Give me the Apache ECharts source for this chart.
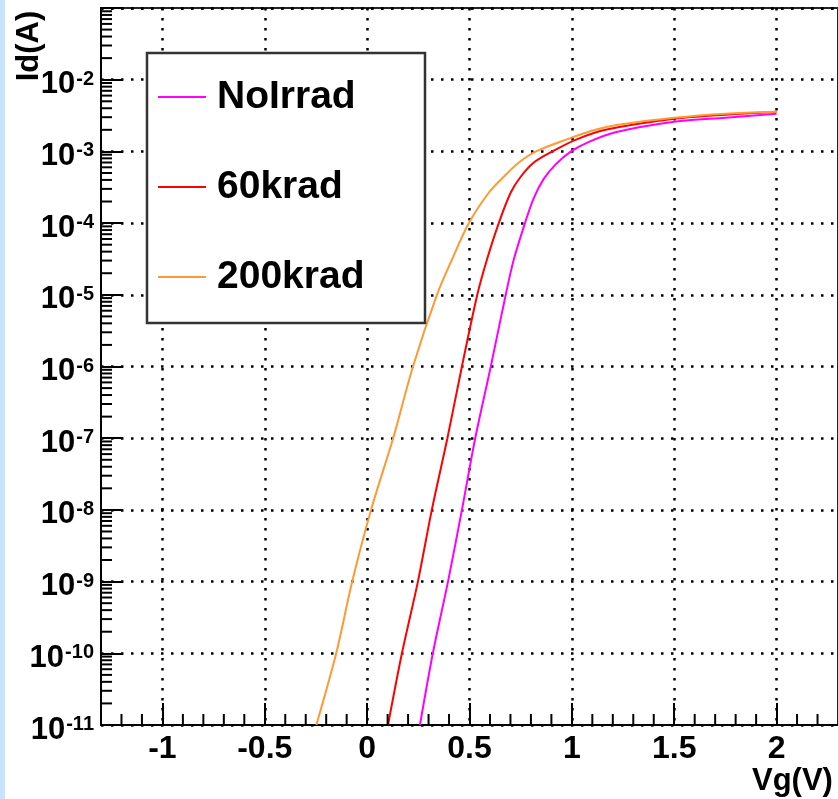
<!DOCTYPE html>
<html>
<head>
<meta charset="utf-8">
<title>Id vs Vg</title>
<script src="https://cdn.jsdelivr.net/npm/echarts@6/dist/echarts.min.js"></script>
<style>
  html, body { margin: 0; padding: 0; background: #fff; }
  #chart { width: 838px; height: 799px; }
</style>
</head>
<body>
<div id="chart"></div>
<script>
const FONT = "'Liberation Sans', Arial, Helvetica, sans-serif";

// legend names
const seriesNames = ["NoIrrad", "60krad", "200krad"];
const seriesColors = ["#ff00ff", "#ff0000", "#ff9933"];

// gate voltage (V) / drain current (A)
const vgNoIrrad = [0.258, 0.321, 0.395, 0.463, 0.528, 0.604, 0.677, 0.716, 0.771, 0.813, 0.862, 0.921, 0.996, 1.081, 1.213, 1.5, 1.75, 2.0];
const idNoIrrad = [1e-11, 1e-10, 1e-9, 1e-8, 1e-7, 1e-6, 1e-5, 3.08e-5, 1e-4, 2.2e-4, 4.1e-4, 6.6e-4, 1e-3, 1.35e-3, 1.85e-3, 2.59e-3, 2.95e-3, 3.35e-3];

const vg60krad = [0.102, 0.17, 0.248, 0.316, 0.392, 0.463, 0.538, 0.585, 0.643, 0.701, 0.75, 0.813, 0.905, 1.018, 1.164, 1.5, 1.75, 2.0];
const id60krad = [1e-11, 1e-10, 1e-9, 1e-8, 1e-7, 1e-6, 1e-5, 3.08e-5, 1e-4, 2.65e-4, 4.43e-4, 6.95e-4, 1e-3, 1.45e-3, 2.0e-3, 2.85e-3, 3.25e-3, 3.57e-3];

const vg200krad = [-0.248, -0.151, -0.073, 0.019, 0.127, 0.224, 0.341, 0.414, 0.497, 0.594, 0.667, 0.74, 0.825, 0.969, 1.115, 1.227, 1.5, 1.75, 2.0];
const id200krad = [1e-11, 1e-10, 1e-9, 1e-8, 1e-7, 1e-6, 1e-5, 3.08e-5, 1e-4, 2.65e-4, 4.43e-4, 6.95e-4, 1e-3, 1.45e-3, 2.0e-3, 2.35e-3, 2.94e-3, 3.35e-3, 3.57e-3];

// axis ranges, labelled ticks and ROOT-style minor ticks
const xMin = -1.3, xMax = 2.3;
const yMin = 1e-11, yMax = 1e-1;
const xMajorTicks = [-1, -0.5, 0, 0.5, 1, 1.5, 2];
const xMinorTicks = [-1.2, -1.1, -0.9, -0.8, -0.7, -0.6, -0.4, -0.3, -0.2, -0.1, 0.1, 0.2, 0.3, 0.4,
  0.6, 0.7, 0.8, 0.9, 1.1, 1.2, 1.3, 1.4, 1.6, 1.7, 1.8, 1.9, 2.1, 2.2];
const yMinorTicks = [];
for (let e = -11; e <= -2; e++) {
  for (let k = 2; k <= 9; k++) yMinorTicks.push(k * Math.pow(10, e));
}

const pairs = (xs, ys) => xs.map((x, i) => [x, ys[i]]);
const curves = [pairs(vgNoIrrad, idNoIrrad), pairs(vg60krad, id60krad), pairs(vg200krad, id200krad)];

const tickData = xMinorTicks.map(v => [v, yMin, 0]).concat(yMinorTicks.map(v => [xMin, v, 1]));

function renderMinorTick(params, api) {
  const p = api.coord([api.value(0), api.value(1)]);
  const vertical = api.value(2) === 0;
  return {
    type: "line",
    shape: vertical
      ? { x1: p[0], y1: p[1], x2: p[0], y2: p[1] - 11 }
      : { x1: p[0], y1: p[1], x2: p[0] + 11, y2: p[1] },
    style: { stroke: "#000", lineWidth: 2 },
  };
}

const dotted = { color: "#000", width: 2.5, type: [2.5, 7.5] };

const chart = echarts.init(document.getElementById("chart"));

const option = {
  animation: false,
  backgroundColor: "#fff",
  grid: {
    left: 101,
    top: 8,
    width: 739,
    height: 717,
    show: true,
    borderColor: "#222",
    borderWidth: 2,
  },
  xAxis: {
    type: "value",
    min: xMin,
    max: xMax,
    axisLine: { onZero: false, lineStyle: { color: "#000", width: 2 } },
    axisTick: { inside: true, length: 22, customValues: xMajorTicks, lineStyle: { color: "#000", width: 2 } },
    axisLabel: {
      customValues: xMajorTicks,
      margin: 8,
      color: "#000",
      fontFamily: FONT,
      fontWeight: "bold",
      fontSize: 32,
    },
    splitLine: { show: true, lineStyle: dotted },
  },
  yAxis: {
    type: "log",
    logBase: 10,
    min: yMin,
    max: yMax,
    interval: 1,
    axisLine: { onZero: false, lineStyle: { color: "#000", width: 2 } },
    axisTick: { inside: true, length: 22, lineStyle: { color: "#000", width: 2 } },
    axisLabel: {
      margin: 7,
      formatter: (v) => {
        const e = Math.round(Math.log10(v));
        return e === -1 ? "" : "{b|10}{e|" + e + "}";
      },
      rich: {
        b: { fontFamily: FONT, fontWeight: "bold", fontSize: 31, lineHeight: 31, padding: [10, 0, 0, 0], color: "#000" },
        e: { fontFamily: FONT, fontWeight: "bold", fontSize: 20, lineHeight: 20, verticalAlign: "top", padding: [5, 0, 0, 1], color: "#000" },
      },
    },
    splitLine: { show: true, lineStyle: dotted },
  },
  legend: {
    data: seriesNames,
    orient: "vertical",
    left: 158,
    top: 77,
    padding: 0,
    icon: "rect",
    itemWidth: 48,
    itemHeight: 2,
    itemGap: 50,
    z: 110,
    textStyle: {
      fontFamily: FONT,
      fontWeight: "bold",
      fontSize: 39,
      lineHeight: 40,
      color: "#000",
      padding: [0, 0, 0, 6],
    },
  },
  graphic: [
    { type: "rect", left: 0, top: 0, shape: { width: 5, height: 799 }, style: { fill: "#c9e3fd" }, z: 100 },
    {
      type: "rect",
      shape: { x: 147, y: 53, width: 278, height: 270 },
      style: { fill: "#fff", stroke: "#333", lineWidth: 2.5 },
      z: 100,
    },
    {
      type: "text",
      x: 29,
      y: 46,
      rotation: Math.PI / 2,
      style: { text: "Id(A)", fontFamily: FONT, fontWeight: "bold", fontSize: 31, fill: "#000", align: "center", verticalAlign: "middle" },
      z: 100,
    },
    {
      type: "text",
      x: 752,
      y: 781,
      style: { text: "Vg(V)", fontFamily: FONT, fontWeight: "bold", fontSize: 31, fill: "#000", align: "left", verticalAlign: "middle" },
      z: 100,
    },
  ],
  series: curves.map((data, i) => ({
    name: seriesNames[i],
    type: "line",
    data: data,
    smooth: 0.3,
    symbol: "none",
    lineStyle: { color: seriesColors[i], width: 2 },
    itemStyle: { color: seriesColors[i] },
    z: 3,
  })).concat([{
    type: "custom",
    renderItem: renderMinorTick,
    data: tickData,
    silent: true,
    clip: false,
    z: 4,
  }]),
};

chart.setOption(option);
</script>
</body>
</html>
